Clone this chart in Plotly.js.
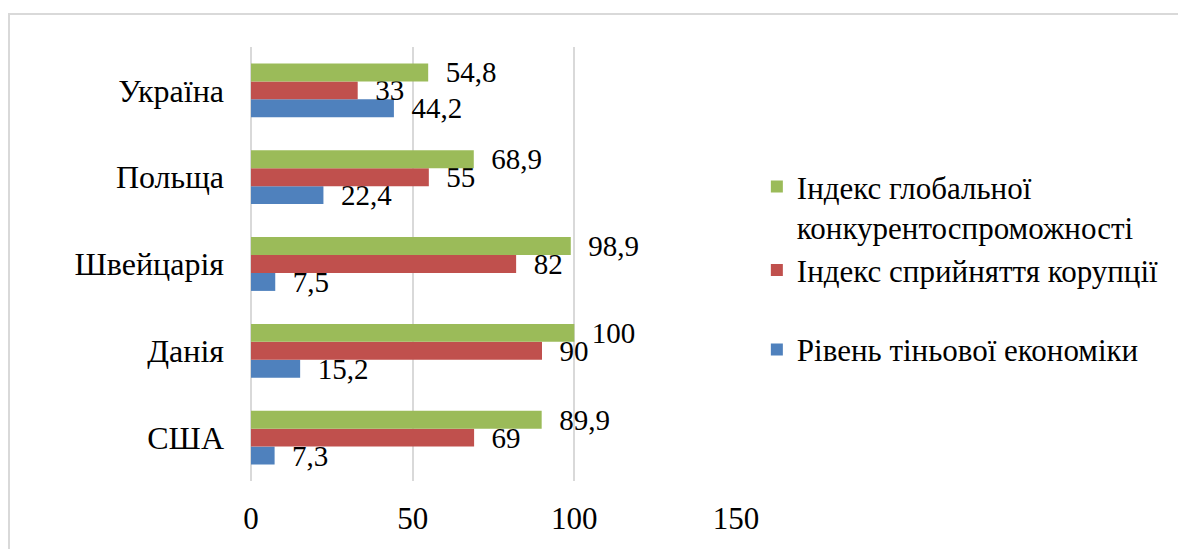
<!DOCTYPE html>
<html>
<head>
<meta charset="utf-8">
<script src="https://cdn.plot.ly/plotly-3.0.1.min.js"></script>
<style>
  html, body { margin: 0; padding: 0; background: #fff; width: 1178px; height: 549px; overflow: hidden; }
  #frame { position: absolute; left: 8px; top: 13px; width: 1180px; height: 545px;
           border-left: 2px solid #d9d9d9; border-top: 2px solid #d9d9d9; }
  #chart { position: absolute; left: 0; top: 0; width: 1170px; height: 535px; }
</style>
</head>
<body>
<div id="frame"><div id="chart"></div></div>
<script>
const categories = ["США", "Данія", "Швейцарія", "Польща", "Україна"];
const shadowEconomy = [7.3, 15.2, 7.5, 22.4, 44.2];
const corruptionIndex = [69, 90, 82, 55, 33];
const competitivenessIndex = [89.9, 100, 98.9, 68.9, 54.8];
const seriesNames = ["Рівень тіньової економіки", "Індекс сприйняття корупції", "Індекс глобальної<br>конкурентоспроможності"];
const xTicks = [0, 50, 100, 150];

const FONT = "'Liberation Serif', 'Times New Roman', serif";
const fmt = v => "\u00a0\u00a0" + String(v).replace(".", ",");

function mk(vals, name, color, group, rank) {
  return {
    type: "bar", orientation: "h", y: categories, x: vals, name: name,
    marker: { color: color },
    text: vals.map(fmt), textposition: "outside", cliponaxis: false,
    constraintext: "none",
    textfont: { family: FONT, size: 29, color: "#000" },
    legendgroup: group, legendrank: rank, hoverinfo: "none"
  };
}

const data = [
  mk(shadowEconomy, seriesNames[0], "#4F81BD", "g2", 3),
  mk(corruptionIndex, seriesNames[1], "#C0504D", "g1", 2),
  mk(competitivenessIndex, seriesNames[2], "#9BBB59", "g1", 1)
];

const layout = {
  width: 1170, height: 535,
  margin: { l: 241, r: 444, t: 32, b: 69 },
  paper_bgcolor: "rgba(0,0,0,0)", plot_bgcolor: "#fff",
  barmode: "group", bargap: 0.38, bargroupgap: 0,
  font: { family: FONT, size: 29, color: "#000" },
  xaxis: {
    range: [0, 150], tickvals: xTicks, ticktext: xTicks.map(String),
    showgrid: true, gridcolor: "#d9d9d9", gridwidth: 2,
    zeroline: true, zerolinecolor: "#d9d9d9", zerolinewidth: 2,
    showline: false, ticks: "", ticklabelstandoff: 16,
    tickfont: { family: FONT, size: 31, color: "#000" }, fixedrange: true
  },
  yaxis: {
    showgrid: false, zeroline: false, showline: false, ticks: "",
    ticklabelstandoff: 26,
    tickfont: { family: FONT, size: 32, color: "#000" }, fixedrange: true
  },
  showlegend: true,
  legend: {
    x: 1.043, xanchor: "left", y: 0.49, yanchor: "middle",
    traceorder: "grouped", tracegroupgap: 36, valign: "top",
    font: { family: FONT, size: 31, color: "#000" },
    bgcolor: "rgba(0,0,0,0)"
  }
};

Plotly.newPlot("chart", data, layout, { displayModeBar: false, staticPlot: true });
</script>
</body>
</html>
